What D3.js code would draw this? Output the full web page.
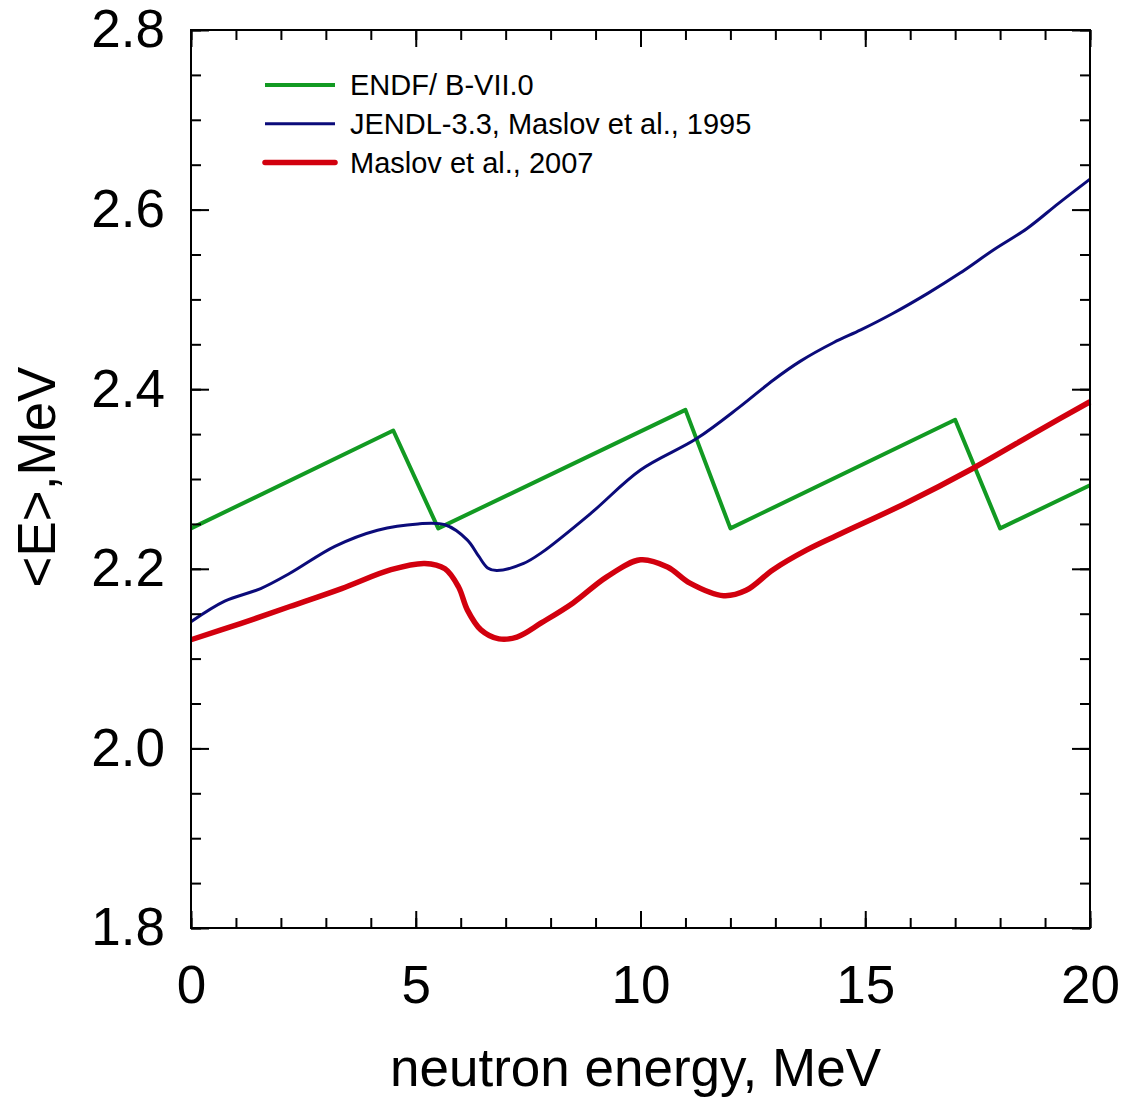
<!DOCTYPE html>
<html>
<head>
<meta charset="utf-8">
<script src="https://cdn.jsdelivr.net/npm/d3@7"></script>
<style>
  body { margin: 0; background: #fff; }
  svg text { font-family: "Liberation Sans", Arial, sans-serif; fill: #000; }
</style>
</head>
<body>
<svg class="d3" width="1125" height="1099"></svg>
<script>
// ENDF/B-VII.0 (piecewise linear)
var endfE = [0, 4.5, 5.5, 11, 12, 17, 18, 20];
var endfY = [2.245, 2.354, 2.245, 2.377, 2.245, 2.366, 2.245, 2.293];

// JENDL-3.3, Maslov et al., 1995
var jendlE = [0, 0.75, 1.55, 2.2, 3.2, 4.15, 5.05, 5.65, 6.15, 6.4, 6.6, 6.8, 7.4, 7.8,
              8.9, 10, 11.25, 12.2, 12.95, 13.55, 14.3, 14.9, 15.6, 16.4, 17.1, 17.85, 18.6, 19.3, 20];
var jendlY = [2.141, 2.164, 2.178, 2.195, 2.225, 2.243, 2.250, 2.249, 2.232, 2.214, 2.201, 2.198, 2.206, 2.218,
              2.262, 2.31, 2.345, 2.38, 2.41, 2.431, 2.452, 2.466, 2.484, 2.507, 2.529, 2.555, 2.579, 2.607, 2.634];

// Maslov et al., 2007
var maslovE = [0, 1.1, 2.2, 3.35, 4.45, 5.2, 5.65, 5.95, 6.15, 6.45, 6.85, 7.25, 7.8, 8.5,
               9.25, 10, 10.6, 11.1, 11.85, 12.35, 12.95, 13.7, 14.45, 15.9, 17.4, 18.9, 20];
var maslovY = [2.121, 2.139, 2.158, 2.178, 2.199, 2.206, 2.200, 2.180, 2.154, 2.132, 2.122, 2.124, 2.140, 2.162,
               2.191, 2.210, 2.202, 2.184, 2.170, 2.176, 2.199, 2.221, 2.239, 2.273, 2.312, 2.355, 2.386];

var xTicks = [0, 5, 10, 15, 20];
var yTicks = [1.8, 2.0, 2.2, 2.4, 2.6, 2.8];

var seriesNames = ["ENDF/ B-VII.0", "JENDL-3.3, Maslov et al., 1995", "Maslov et al., 2007"];
var seriesColors = ["#129a22", "#0b0b7a", "#d2000e"];
var seriesWidths = [4, 3, 5.5];

var svg = d3.select("svg.d3"),
    margin = {left: 191, top: 30, right: 35, bottom: 171},
    width = +svg.attr("width") - margin.left - margin.right,
    height = +svg.attr("height") - margin.top - margin.bottom;

var x = d3.scaleLinear().domain([0, 20]).range([0, width]);
var y = d3.scaleLinear().domain([1.8, 2.8]).range([height, 0]);

var g = svg.append("g").attr("transform", "translate(" + margin.left + "," + margin.top + ")");

function zip(xs, ys) { return xs.map(function(v, i) { return [v, ys[i]]; }); }

var series = [zip(endfE, endfY), zip(jendlE, jendlY), zip(maslovE, maslovY)];

var lineLin = d3.line().x(function(d) { return x(d[0]); }).y(function(d) { return y(d[1]); });
var lineSmooth = d3.line().curve(d3.curveCatmullRom.alpha(0.5))
    .x(function(d) { return x(d[0]); }).y(function(d) { return y(d[1]); });

// curves
g.selectAll("path.series")
    .data(series)
  .enter().append("path")
    .attr("class", "series")
    .attr("fill", "none")
    .attr("stroke", function(d, i) { return seriesColors[i]; })
    .attr("stroke-width", function(d, i) { return seriesWidths[i]; })
    .attr("stroke-linejoin", "round")
    .attr("d", function(d, i) { return i === 0 ? lineLin(d) : lineSmooth(d); });

// axes, ticks pointing inward
function styleAxis(sel) {
  sel.select(".domain").remove();
  sel.selectAll("line").attr("stroke", "#000").attr("stroke-width", 2);
  sel.selectAll("text").style("font-size", "53px").style("font-family", "'Liberation Sans', Arial, sans-serif");
}

var minorX = d3.range(0, 21, 1), minorY = d3.range(1.8, 2.801, 0.05);

g.append("g").attr("transform", "translate(0," + height + ")")
    .call(d3.axisBottom(x).tickValues(minorX).tickSize(-10).tickFormat(""))
    .call(styleAxis);
g.append("g").attr("transform", "translate(0," + height + ")")
    .call(d3.axisBottom(x).tickValues(xTicks).tickSize(-17).tickPadding(37).tickFormat(d3.format("d")))
    .call(styleAxis);
g.append("g")
    .call(d3.axisTop(x).tickValues(minorX).tickSize(-10).tickFormat(""))
    .call(styleAxis);
g.append("g")
    .call(d3.axisTop(x).tickValues(xTicks).tickSize(-17).tickFormat(""))
    .call(styleAxis);

g.append("g")
    .call(d3.axisLeft(y).tickValues(minorY).tickSize(-10).tickFormat(""))
    .call(styleAxis);
g.append("g")
    .call(d3.axisLeft(y).tickValues(yTicks).tickSize(-18).tickPadding(26).tickFormat(d3.format(".1f")))
    .call(styleAxis);
g.append("g").attr("transform", "translate(" + width + ",0)")
    .call(d3.axisRight(y).tickValues(minorY).tickSize(-10).tickFormat(""))
    .call(styleAxis);
g.append("g").attr("transform", "translate(" + width + ",0)")
    .call(d3.axisRight(y).tickValues(yTicks).tickSize(-18).tickFormat(""))
    .call(styleAxis);

// frame
g.append("rect")
    .attr("width", width).attr("height", height)
    .attr("fill", "none").attr("stroke", "#000").attr("stroke-width", 2);

// axis titles
svg.append("text")
    .attr("x", margin.left + width / 2 - 5)
    .attr("y", 1086)
    .attr("text-anchor", "middle")
    .style("font-size", "53px")
    .text("neutron energy, MeV");

svg.append("text")
    .attr("transform", "translate(55," + 477 + ") rotate(-90)")
    .attr("text-anchor", "middle")
    .style("font-size", "53px")
    .text("<E>,MeV");

// legend
var legend = g.append("g").attr("transform", "translate(74,55)");
var items = legend.selectAll("g")
    .data(seriesNames)
  .enter().append("g")
    .attr("transform", function(d, i) { return "translate(0," + (i * 38.8) + ")"; });
items.append("line")
    .attr("x1", 0).attr("x2", 70)
    .attr("stroke", function(d, i) { return seriesColors[i]; })
    .attr("stroke-width", function(d, i) { return seriesWidths[i]; })
    .attr("stroke-linecap", function(d, i) { return i === 2 ? "round" : "butt"; });
items.append("text")
    .attr("x", 85)
    .attr("dy", "0.35em")
    .style("font-size", "29px")
    .text(function(d) { return d; });
</script>
</body>
</html>
